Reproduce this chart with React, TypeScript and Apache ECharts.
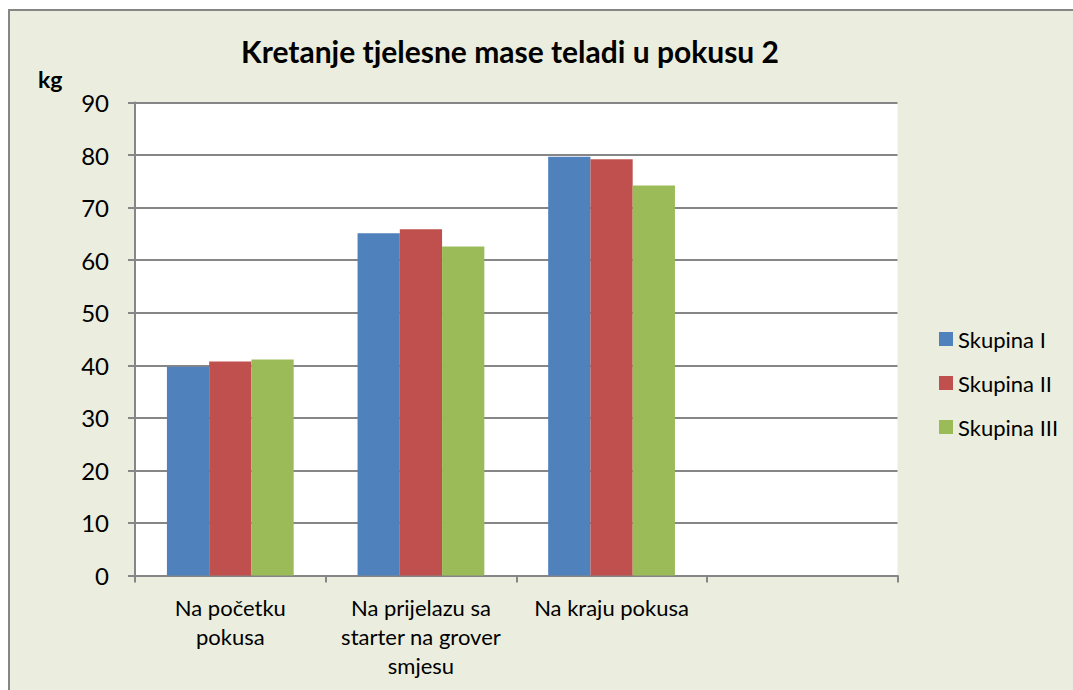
import React, { useEffect, useRef } from "react";
import * as echarts from "echarts";

const categories = [
  "Na početku\npokusa",
  "Na prijelazu sa\nstarter na grover\nsmjesu",
  "Na kraju pokusa",
  "",
];
const seriesNames = ["Skupina I", "Skupina II", "Skupina III"];
const skupinaI = [39.7, 65.1, 79.7, null];
const skupinaII = [40.7, 65.9, 79.2, null];
const skupinaIII = [41.1, 62.6, 74.2, null];
const colors = ["#4F81BD", "#C0504D", "#9BBB59"];

const FONT = "Lato";

export default function App() {
  const ref = useRef<HTMLDivElement>(null);
  useEffect(() => {
    if (!ref.current) return;
    const chart = echarts.init(ref.current, undefined, { renderer: "svg" });
    const data = [skupinaI, skupinaII, skupinaIII];
    chart.setOption({
      animation: false,
      backgroundColor: "#ffffff",
      textStyle: { fontFamily: FONT },
      graphic: [
        {
          type: "rect",
          z: -10,
          shape: { x: 9, y: 10, width: 1100, height: 720 },
          style: { fill: "#EBEEDE", stroke: "#868686", lineWidth: 2 },
        },
        {
          type: "text",
          x: 38,
          y: 79,
          style: {
            text: "kg",
            font: `bold 23px ${FONT}`,
            fill: "#000",
            verticalAlign: "middle",
          },
        },
      ],
      title: {
        text: "Kretanje tjelesne mase teladi u pokusu 2",
        left: 505,
        textAlign: "center",
        top: 31,
        textStyle: { fontFamily: FONT, fontWeight: "bold", fontSize: 30, color: "#000" },
      },
      legend: {
        orient: "vertical",
        left: 934,
        top: 323,
        itemWidth: 14,
        itemHeight: 14,
        itemGap: 22,
        icon: "rect",
        textStyle: { fontFamily: FONT, fontSize: 22, color: "#000", lineHeight: 22 },
        data: seriesNames,
      },
      grid: { left: 135, top: 102.5, right: 175.5, bottom: 114.5, backgroundColor: "#ffffff", show: true, borderWidth: 0 },
      xAxis: {
        type: "category",
        data: categories,
        axisLine: { lineStyle: { color: "#868686", width: 2 } },
        axisTick: { show: true, length: 7, interval: 0, alignWithLabel: false, lineStyle: { color: "#868686", width: 2 } },
        axisLabel: { interval: 0, margin: 17, fontFamily: FONT, fontSize: 22, color: "#000", lineHeight: 29 },
      },
      yAxis: {
        type: "value",
        min: 0,
        max: 90,
        interval: 10,
        axisLine: { show: true, lineStyle: { color: "#868686", width: 2 } },
        axisTick: { show: true, length: 7, lineStyle: { color: "#868686", width: 2 } },
        splitLine: { lineStyle: { color: "#868686", width: 2 } },
        axisLabel: { margin: 26, fontFamily: FONT, fontSize: 24, color: "#000" },
      },
      series: seriesNames.map((name, i) => ({
        name,
        type: "bar",
        data: data[i],
        barGap: "0%",
        barCategoryGap: "33.5%",
        itemStyle: { color: colors[i] },
      })),
    });
    return () => chart.dispose();
  }, []);
  return (
    <div
      ref={ref}
      style={{ position: "fixed", left: 0, top: 0, width: 1073, height: 690 }}
    />
  );
}
